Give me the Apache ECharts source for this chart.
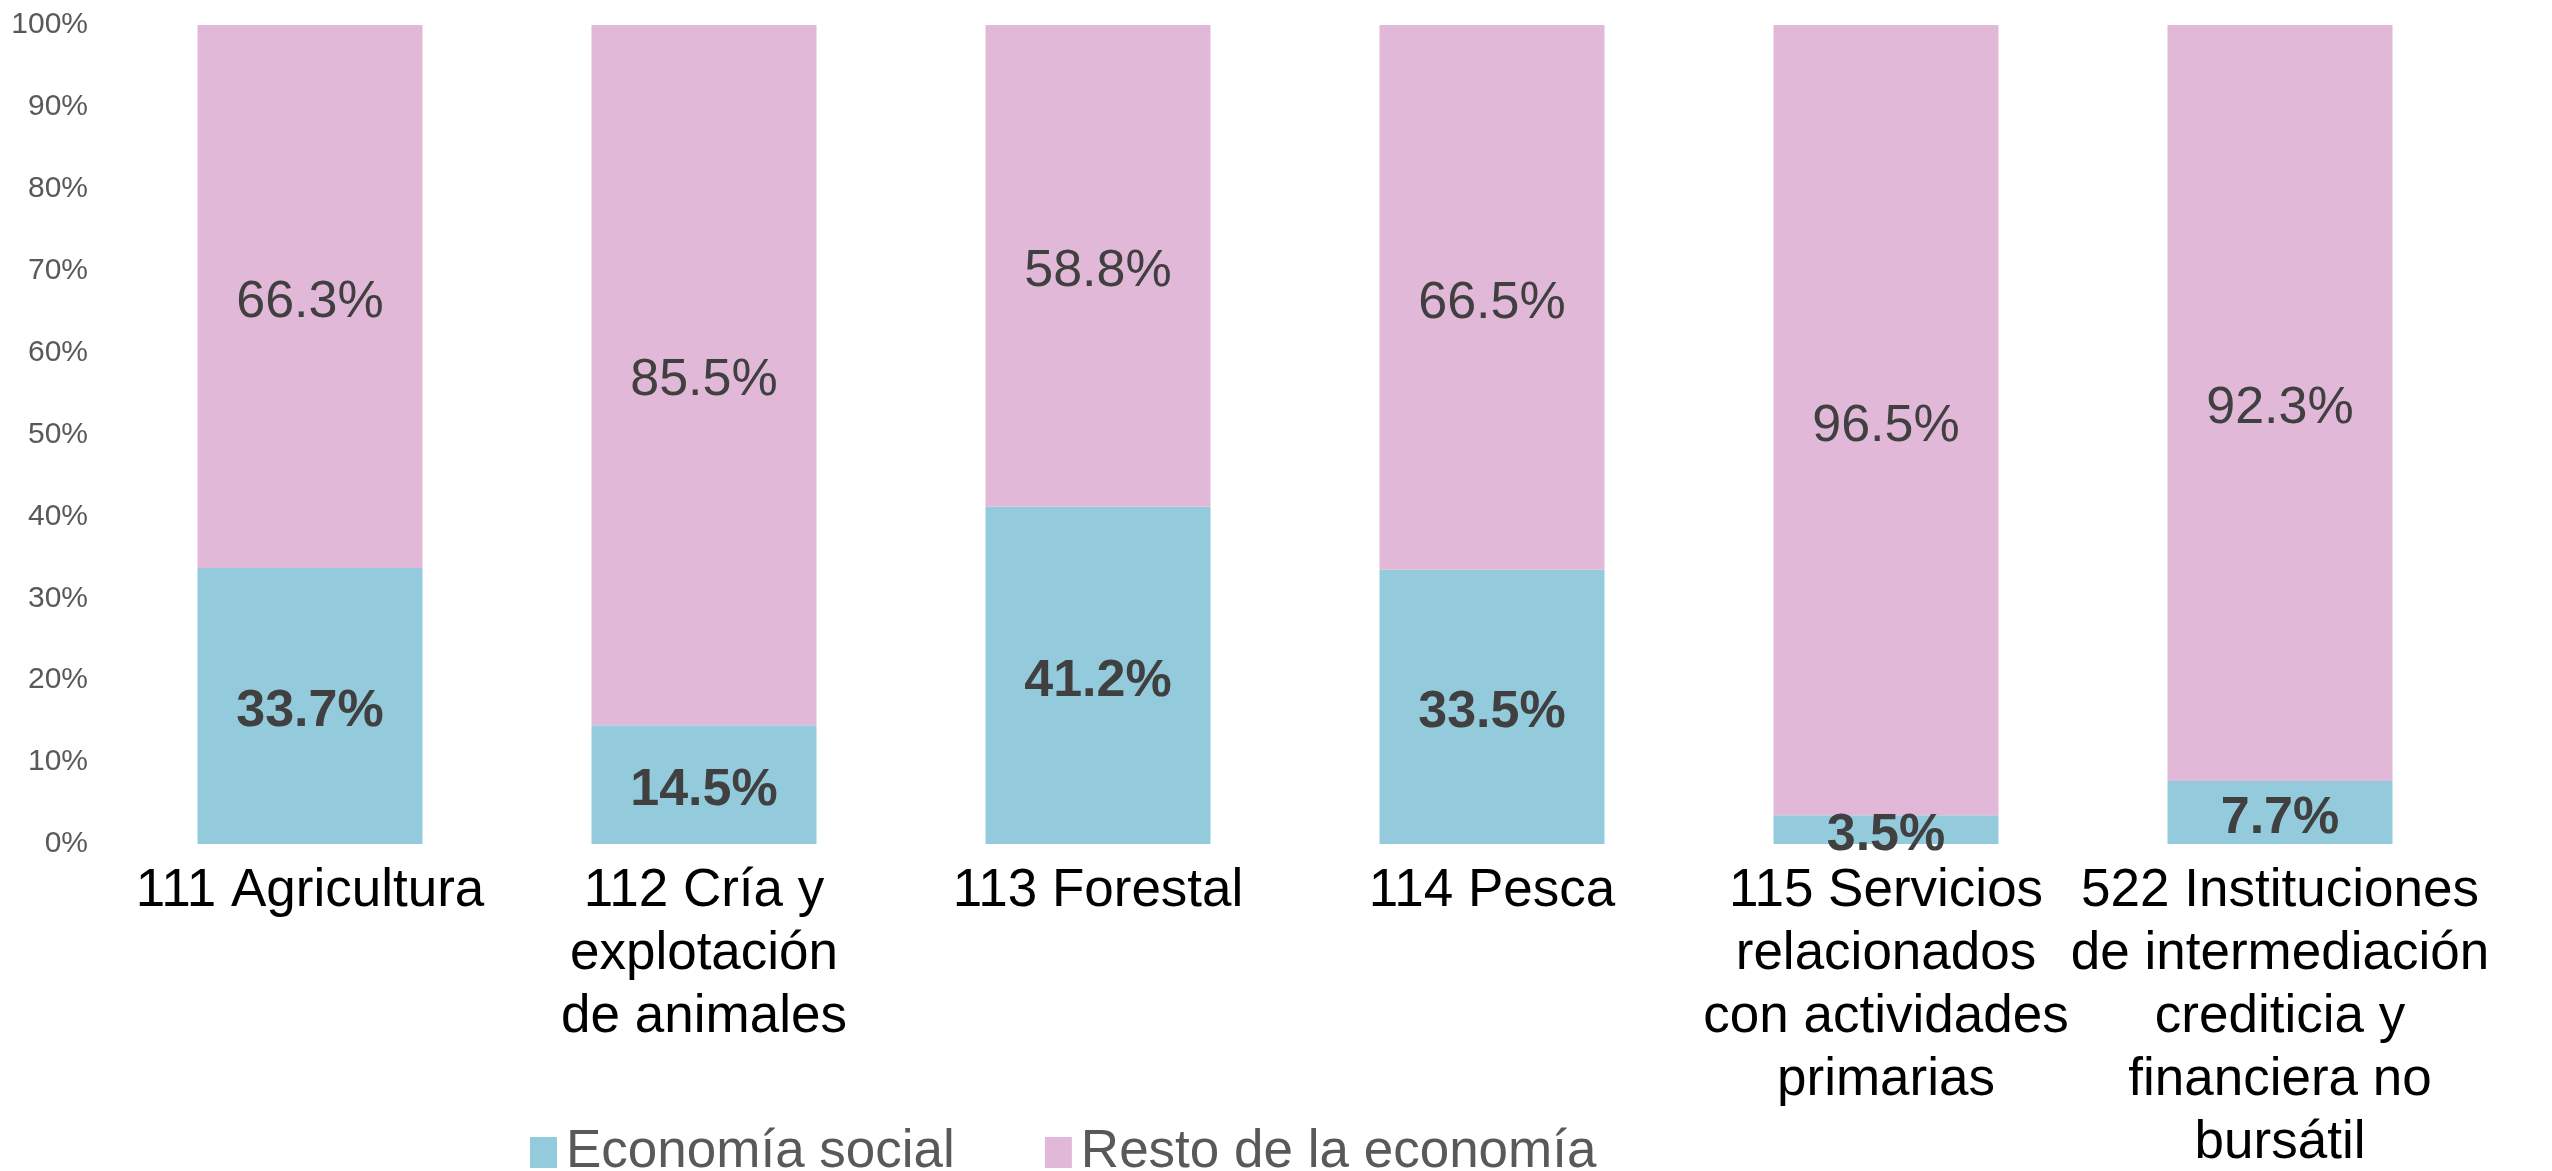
<!DOCTYPE html>
<html>
<head>
<meta charset="utf-8">
<script src="https://cdn.jsdelivr.net/npm/echarts@6/dist/echarts.min.js"></script>
<style>
  html, body { margin: 0; padding: 0; background: #fff; }
  #chart { width: 2552px; height: 1171px; }
</style>
</head>
<body>
<div id="chart"></div>
<script>
// categorías (con saltos de línea como en la gráfica original)
const categories = [
  '111 Agricultura',
  '112 Cría y\nexplotación\nde animales',
  '113 Forestal',
  '114 Pesca',
  '115 Servicios\nrelacionados\ncon actividades\nprimarias',
  '522 Instituciones\nde intermediación\ncrediticia y\nfinanciera no\nbursátil'
];
const seriesNames = ['Economía social', 'Resto de la economía'];
const economiaSocial = [33.7, 14.5, 41.2, 33.5, 3.5, 7.7];
const restoEconomia = [66.3, 85.5, 58.8, 66.5, 96.5, 92.3];

const FONT = '"Liberation Sans", Arial, sans-serif';

const chart = echarts.init(document.getElementById('chart'));

chart.setOption({
  animation: false,
  backgroundColor: '#fff',
  grid: {
    left: 113,
    right: 75,
    top: 25,
    bottom: 327,
    containLabel: false,
    outerBoundsMode: 'none'
  },
  legend: {
    left: 525,
    top: 1121,
    itemWidth: 27,
    itemHeight: 31,
    itemGap: 90,
    icon: 'rect',
    textStyle: {
      fontFamily: FONT,
      fontSize: 53,
      color: '#595959',
      padding: [0, 0, 0, 4]
    },
    data: seriesNames
  },
  xAxis: {
    type: 'category',
    data: categories,
    axisLine: {show: false},
    axisTick: {show: false},
    axisLabel: {
      interval: 0,
      margin: 16,
      fontFamily: FONT,
      fontSize: 53,
      lineHeight: 63,
      color: '#000',
      verticalAlign: 'top'
    }
  },
  yAxis: {
    type: 'value',
    min: 0,
    max: 100,
    interval: 10,
    splitLine: {show: false},
    axisLine: {show: false},
    axisTick: {show: false},
    axisLabel: {
      margin: 25,
      fontFamily: FONT,
      fontSize: 30,
      color: '#595959',
      formatter: v => v + '%'
    }
  },
  series: [
    {
      name: seriesNames[0],
      type: 'bar',
      stack: 'total',
      barWidth: 225,
      itemStyle: {color: '#93CBDC'},
      label: {
        show: true,
        position: 'inside',
        offset: [0, 6],
        fontFamily: FONT,
        fontSize: 52,
        fontWeight: 'bold',
        color: '#404040',
        formatter: p => p.value.toFixed(1) + '%'
      },
      data: economiaSocial
    },
    {
      name: seriesNames[1],
      type: 'bar',
      stack: 'total',
      barWidth: 225,
      itemStyle: {color: '#E1B8D7'},
      label: {
        show: true,
        position: 'inside',
        offset: [0, 6],
        fontFamily: FONT,
        fontSize: 52,
        color: '#404040',
        formatter: p => p.value.toFixed(1) + '%'
      },
      data: restoEconomia
    }
  ]
});
</script>
</body>
</html>
